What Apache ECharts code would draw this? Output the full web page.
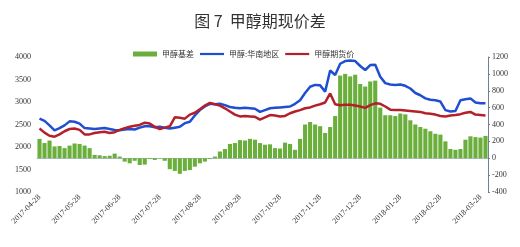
<!DOCTYPE html>
<html><head><meta charset="utf-8">
<script src="https://cdn.jsdelivr.net/npm/echarts@6/dist/echarts.min.js"></script>
<style>html,body{margin:0;padding:0;background:#fff}#c{width:520px;height:247px}</style>
</head><body><div id="c"></div>
<script>
var dates = [
'2017-04-28','2017-05-02','2017-05-05','2017-05-09','2017-05-13','2017-05-16','2017-05-20','2017-05-24',
'2017-05-28','2017-06-02','2017-06-05','2017-06-09','2017-06-13','2017-06-16','2017-06-20','2017-06-24',
'2017-06-28','2017-07-02','2017-07-05','2017-07-09','2017-07-13','2017-07-16','2017-07-20','2017-07-24',
'2017-07-28','2017-08-02','2017-08-05','2017-08-09','2017-08-13','2017-08-16','2017-08-20','2017-08-24',
'2017-08-28','2017-09-02','2017-09-05','2017-09-09','2017-09-13','2017-09-16','2017-09-20','2017-09-24',
'2017-09-28','2017-10-02','2017-10-05','2017-10-09','2017-10-13','2017-10-16','2017-10-20','2017-10-24',
'2017-10-28','2017-11-02','2017-11-05','2017-11-09','2017-11-13','2017-11-16','2017-11-20','2017-11-24',
'2017-11-28','2017-12-02','2017-12-05','2017-12-09','2017-12-13','2017-12-16','2017-12-20','2017-12-24',
'2017-12-28','2018-01-02','2018-01-05','2018-01-09','2018-01-13','2018-01-16','2018-01-20','2018-01-24',
'2018-01-28','2018-02-02','2018-02-05','2018-02-09','2018-02-13','2018-02-16','2018-02-20','2018-02-24',
'2018-02-28','2018-03-02','2018-03-05','2018-03-09','2018-03-13','2018-03-16','2018-03-20','2018-03-24',
'2018-03-28','2018-04-02'
];
var tickLabels = ['2017-04-28','2017-05-28','2017-06-28','2017-07-28','2017-08-28','2017-09-28',
'2017-10-28','2017-11-28','2017-12-28','2018-01-28','2018-02-28','2018-03-28'];
var basis = [
230,180,210,140,145,120,150,175,
170,150,120,40,35,25,30,55,
20,-40,-60,-30,-80,-75,-10,-20,
-5,-30,-130,-150,-185,-150,-140,-100,
-60,-40,-10,20,80,110,170,180,
215,210,230,220,180,160,165,120,
115,185,170,100,230,400,430,400,
380,300,370,500,980,1000,970,990,
880,850,910,920,600,510,510,500,
530,520,450,400,370,350,320,290,
280,200,110,100,110,220,260,250,
245,265
];
var southChina = [
2630,2580,2480,2370,2420,2480,2570,2560,
2520,2420,2410,2400,2410,2420,2400,2380,
2370,2390,2400,2390,2430,2460,2460,2440,
2450,2430,2410,2430,2450,2530,2560,2700,
2820,2900,2960,2950,2960,2930,2890,2870,
2860,2870,2860,2850,2780,2820,2860,2870,
2880,2890,2900,2960,3040,3200,3340,3380,
3370,3230,3700,3600,3850,3910,3920,3910,
3800,3711,3820,3830,3560,3420,3390,3380,
3390,3360,3300,3200,3150,3080,3050,3040,
3010,2820,2790,2800,3040,3060,3080,2990,
2970,2970
];
var futures = [
2410,2320,2250,2230,2280,2350,2400,2410,
2380,2280,2280,2310,2330,2340,2310,2330,
2380,2420,2450,2470,2490,2540,2520,2450,
2400,2430,2460,2660,2650,2630,2720,2760,
2840,2920,2980,2950,2920,2860,2790,2720,
2680,2690,2680,2670,2610,2660,2710,2700,
2680,2690,2750,2790,2820,2860,2880,2920,
2950,2990,3190,2950,2930,2940,2940,2920,
2900,2870,2930,2970,2960,2900,2830,2820,
2820,2810,2800,2790,2780,2750,2740,2720,
2690,2680,2700,2710,2730,2760,2780,2720,
2710,2700
];
var names = ['甲醇基差','甲醇:华南地区','甲醇期货价'];

var chart = echarts.init(document.getElementById('c'));
var serif = '"Liberation Serif","DejaVu Serif",serif';
var lineIcon = 'path://M0,0H24V2.2H0Z';
chart.setOption({
  animation:false,
  title:{text:'图 7  甲醇期现价差',left:'center',top:8,
    textStyle:{fontFamily:'"Noto Sans CJK SC",sans-serif',fontSize:16,fontWeight:'normal',color:'#333'}},
  legend:{top:45,left:128,itemGap:6,itemWidth:24,itemHeight:5,
    textStyle:{fontFamily:'"Noto Sans CJK SC",serif',fontSize:8,color:'#333'},
    data:[{name:names[0],icon:'rect'},{name:names[1],icon:lineIcon},{name:names[2],icon:lineIcon}]},
  grid:{left:37,right:32,top:57,bottom:55},
  xAxis:{type:'category',data:dates,boundaryGap:true,
    axisLine:{lineStyle:{color:'#b4bccb',width:1}},axisTick:{show:false},
    axisLabel:{rotate:45,fontSize:8,fontFamily:serif,color:'#333',margin:4,
      interval:function(i,v){return tickLabels.indexOf(v)>=0;}}},
  yAxis:[
    {type:'value',min:1000,max:4000,interval:500,position:'left',splitLine:{show:false},
      axisLine:{show:false},axisTick:{show:false},
      axisLabel:{fontSize:8,fontFamily:serif,color:'#333',margin:6,formatter:function(v){return String(v);}}},
    {type:'value',min:-400,max:1200,interval:200,position:'right',splitLine:{show:false},
      axisLine:{show:true,lineStyle:{color:'#6f7f96',width:1}},axisTick:{show:true,length:2,lineStyle:{color:'#6f7f96'}},
      axisLabel:{fontSize:8,fontFamily:serif,color:'#333',margin:4,formatter:function(v){return String(v);}}}
  ],
  series:[
    {name:names[0],type:'bar',yAxisIndex:1,data:basis,barCategoryGap:'18%',
      itemStyle:{color:'#6aae3c'}},
    {name:names[1],type:'line',yAxisIndex:0,data:southChina,showSymbol:false,symbol:'none',
      lineStyle:{color:'#1f4fd0',width:2.5},itemStyle:{color:'#1f4fd0'}},
    {name:names[2],type:'line',yAxisIndex:0,data:futures,showSymbol:false,symbol:'none',
      lineStyle:{color:'#b3202a',width:2.5},itemStyle:{color:'#b3202a'}}
  ]
});
</script></body></html>
